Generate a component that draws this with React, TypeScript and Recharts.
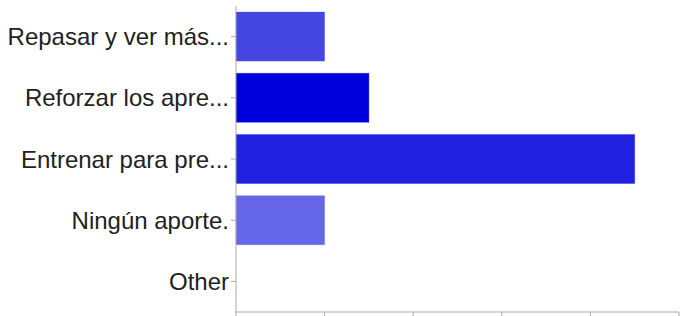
import { BarChart, Bar, XAxis, YAxis, Cell } from "recharts";

// Survey answers — horizontal bar chart

const CATEGORIES = [
  "Repasar y ver más...",
  "Reforzar los apre...",
  "Entrenar para pre...",
  "Ningún aporte.",
  "Other",
];

const COUNTS = [2, 3, 9, 2, 0];

const BAR_COLORS = ["#4545e2", "#0000dc", "#2121e0", "#6666e8", "#8888ee"];

const X_TICKS = [0, 2, 4, 6, 8, 10];

const data = CATEGORIES.map((name, i) => ({ name, count: COUNTS[i] }));

const FONT = '"Liberation Sans", Arial, Helvetica, sans-serif';

// the source cuts off below the axis, so keep the tick marks but no labels
const NoLabel = () => <g />;

export default function App() {
  return (
    <div
      style={{
        position: "absolute",
        left: 0,
        top: 0,
        width: 681,
        height: 316,
        overflow: "hidden",
        background: "#fff",
        fontFamily: FONT,
      }}
    >
      <BarChart
        width={681}
        height={316}
        data={data}
        layout="vertical"
        margin={{ top: 6, right: 2, bottom: 0, left: 0 }}
        barCategoryGap="10%"
      >
        <XAxis
          type="number"
          domain={[0, 10]}
          ticks={X_TICKS}
          height={4}
          axisLine={{ stroke: "#aaa" }}
          tickLine={{ stroke: "#aaa" }}
          tickSize={4}
          tick={NoLabel}
        />
        <YAxis
          type="category"
          dataKey="name"
          width={236}
          axisLine={{ stroke: "#aaa" }}
          tickLine={{ stroke: "#aaa" }}
          tickSize={5}
          tickMargin={2}
          tick={{ fontSize: 24, fill: "#222", fontFamily: FONT }}
        />
        <Bar dataKey="count" isAnimationActive={false}>
          {data.map((d, i) => (
            <Cell
              key={d.name}
              fill={BAR_COLORS[i]}
              stroke={BAR_COLORS[i]}
              strokeOpacity={0.35}
              strokeWidth={1}
            />
          ))}
        </Bar>
      </BarChart>
    </div>
  );
}
